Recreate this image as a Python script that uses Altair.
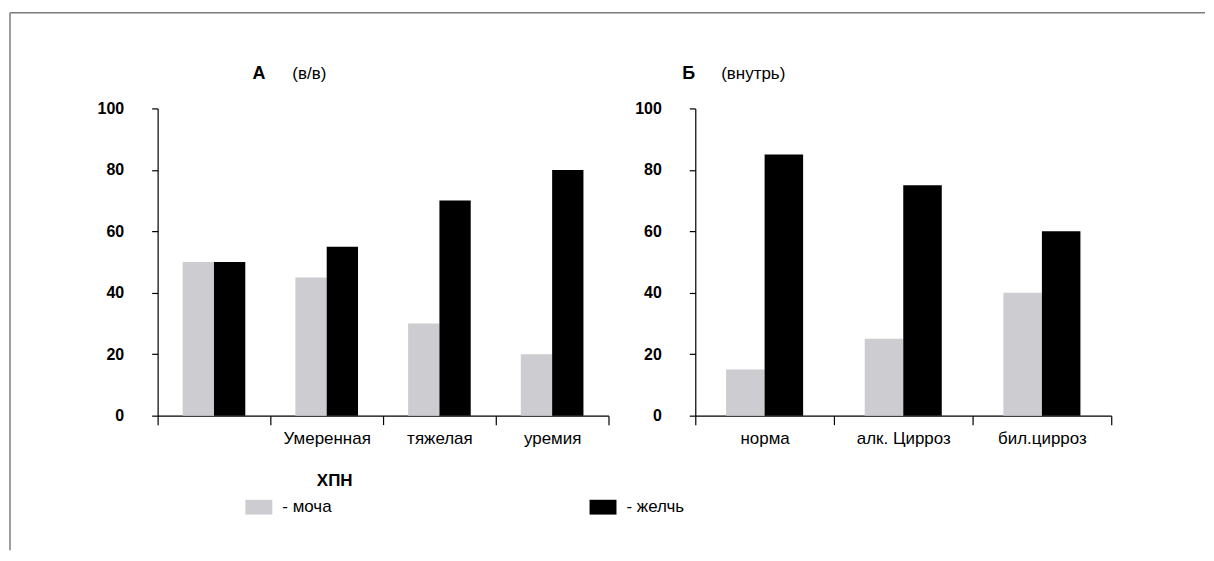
import altair as alt
import pandas as pd

series = ["моча", "желчь"]
colors = ["#cdcdd1", "#000000"]

cats_a = [" ", "Умеренная", "тяжелая", "уремия"]
urine_a = [50, 45, 30, 20]
bile_a = [50, 55, 70, 80]

cats_b = ["норма", "алк. Цирроз", "бил.цирроз"]
urine_b = [15, 25, 40]
bile_b = [85, 75, 60]

y_ticks = [0, 20, 40, 60, 80, 100]
FONT = "Liberation Sans"


def long_df(cats, urine, bile):
    rows = []
    for c, u, b in zip(cats, urine, bile):
        rows.append({"cat": c, "series": series[0], "value": u})
        rows.append({"cat": c, "series": series[1], "value": b})
    return pd.DataFrame(rows)


def panel(df, cats, width, x_title, title_a, title_b, tx_a, tx_b, with_frame):
    x_axis_kwargs = dict(
        labelAngle=0, labelFont=FONT, labelFontSize=17, labelColor="#000",
        labelPadding=6, tickBand="extent", tickSize=9, tickColor="#000",
        domainColor="#000", domainWidth=1.2, tickWidth=1.2, grid=False,
    )
    if x_title:
        x_axis_kwargs.update(title=x_title, titleFont=FONT, titleFontSize=17,
                             titleFontWeight="bold", titleColor="#000",
                             titleX=177, titleY=65, titleAlign="center",
                             titleBaseline="middle")
    else:
        x_axis_kwargs.update(title=None)

    bars = alt.Chart(df).mark_bar().encode(
        x=alt.X("cat:N", sort=cats,
                scale=alt.Scale(paddingInner=0, paddingOuter=0),
                axis=alt.Axis(**x_axis_kwargs)),
        xOffset=alt.XOffset("series:N", sort=series,
                            scale=alt.Scale(paddingInner=0, paddingOuter=0.8)),
        y=alt.Y("value:Q", scale=alt.Scale(domain=[0, 100], nice=False),
                axis=alt.Axis(values=y_ticks, title=None, grid=False,
                              labelFont=FONT, labelFontSize=16, labelFontWeight="bold",
                              labelColor="#000", labelPadding=28, tickSize=6,
                              tickColor="#000", domainColor="#000",
                              domainWidth=1.2, tickWidth=1.2)),
        color=alt.Color("series:N", sort=series,
                        scale=alt.Scale(domain=series, range=colors),
                        legend=alt.Legend(
                            title=None, orient="none", direction="horizontal",
                            legendX=88, legendY=386,
                            symbolType="M-1,-0.55H1V0.55H-1Z", symbolSize=729,
                            symbolStrokeWidth=0, symbolOpacity=1,
                            labelFont=FONT, labelFontSize=17, labelColor="#000",
                            labelOffset=10, columnPadding=258,
                            labelExpr="'- ' + datum.label")),
    )

    t1 = alt.Chart(pd.DataFrame({"t": [title_a]})).mark_text(
        font=FONT, fontSize=18, fontWeight="bold", align="left",
        baseline="middle", color="#000").encode(
        text="t:N", x=alt.value(tx_a), y=alt.value(-35))
    t2 = alt.Chart(pd.DataFrame({"t": [title_b]})).mark_text(
        font=FONT, fontSize=17, align="left", baseline="middle",
        color="#000").encode(
        text="t:N", x=alt.value(tx_b), y=alt.value(-35))

    layers = [bars, t1, t2]
    if with_frame:
        frame = pd.DataFrame({"k": [0]})
        top = alt.Chart(frame).mark_rule(color="#7a7d80", strokeWidth=1.5).encode(
            x=alt.value(-148), x2=alt.value(1050), y=alt.value(-96))
        left = alt.Chart(frame).mark_rule(color="#7a7d80", strokeWidth=1.5).encode(
            x=alt.value(-148), y=alt.value(-96), y2=alt.value(443))
        layers += [top, left]

    return alt.layer(*layers).properties(width=width, height=308)


pa = panel(long_df(cats_a, urine_a, bile_a), cats_a, 452, "ХПН",
           "А", "(в/в)", 95, 135, True)
pb = panel(long_df(cats_b, urine_b, bile_b), cats_b, 417, None,
           "Б", "(внутрь)", -13, 26, False)

chart = alt.hconcat(pa, pb, spacing=87, bounds="flush").resolve_scale(
    x="independent", y="independent", xOffset="independent", color="shared"
).properties(
    padding={"left": 1, "top": 3, "right": 0, "bottom": 0}
).configure(background="white").configure_view(stroke=None)

chart.save("out.html", embed_options={"renderer": "svg", "actions": False})
